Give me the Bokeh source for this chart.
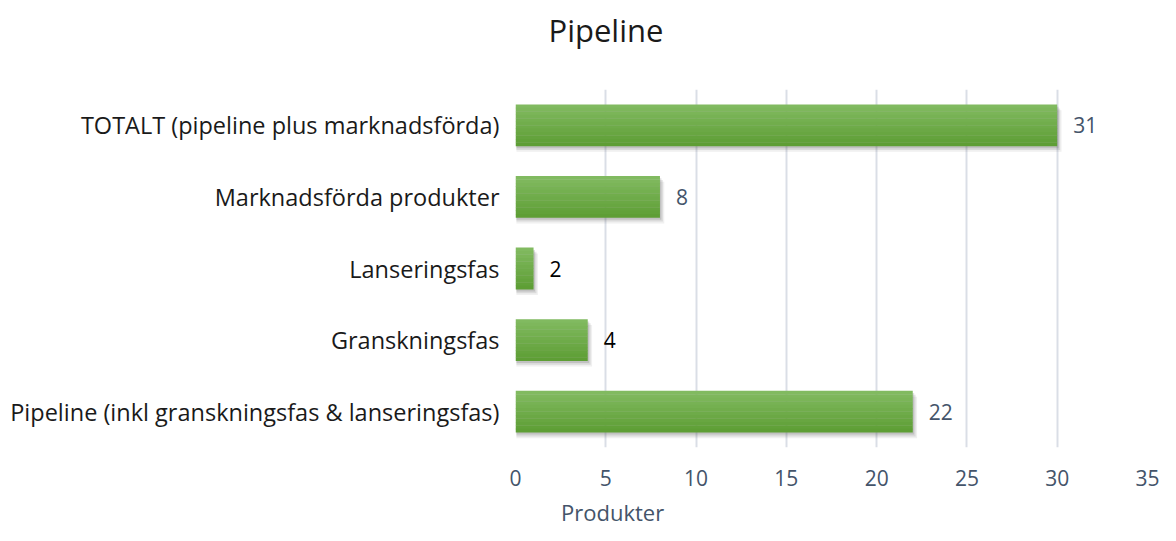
from bokeh.plotting import figure
from bokeh.layouts import column
from bokeh.models import (FactorRange, Range1d, ColumnDataSource, Legend, LegendItem,
                          Title, FixedTicker)
from bokeh.transform import dodge
from bokeh.core.properties import value
from bokeh.embed import file_html
from bokeh.resources import INLINE

# ---- data (top to bottom as in the chart) ----
categories = ["TOTALT (pipeline plus marknadsförda)", "Marknadsförda produkter",
              "Lanseringsfas", "Granskningsfas",
              "Pipeline (inkl granskningsfas & lanseringsfas)"]
bar_values = [30, 8, 1, 4, 22]
label_values = [31, 8, 2, 4, 22]
label_colors = ["#44546A", "#44546A", "#000000", "#000000", "#44546A"]
x_ticks = [0, 5, 10, 15, 20, 25, 30, 35]
series_name = "Produkter"
chart_title = "Pipeline"

FONT = "Open Sans"
factors = list(reversed(categories))

src = ColumnDataSource(dict(cat=categories, bar=bar_values,
                            lab=[str(v) for v in label_values], col=label_colors))

p = figure(y_range=FactorRange(factors=factors, range_padding=0),
           x_range=Range1d(0, 35),
           frame_width=632, frame_height=358,
           min_border_left=515, min_border_right=13,
           min_border_top=89, min_border_bottom=50,
           output_backend="svg", toolbar_location=None,
           background_fill_color="white", border_fill_color="white")
p.outline_line_color = None

# shadow
for i, a in enumerate([0.16, 0.12, 0.08]):
    off = 0.08 + i * 0.08
    p.hbar(y=dodge("cat", -0.03 - i * 0.025, range=p.y_range), left=0.05,
           right=dodge("bar", off), height=0.58, source=src,
           fill_color="#444444", fill_alpha=a, line_color=None)

# gradient bar via bands
top = (0x81, 0xBA, 0x60)
bot = (0x5E, 0x9E, 0x35)
nb = 12
H = 0.58
for k in range(nb):
    t = k / (nb - 1)
    c = tuple(int(round(top[j] + (bot[j] - top[j]) * t)) for j in range(3))
    color = "#%02x%02x%02x" % c
    center = H / 2 - (k + 0.5) * H / nb
    p.hbar(y=dodge("cat", center, range=p.y_range), left=0, right="bar",
           height=H / nb + 0.004, source=src, fill_color=color, line_color=None)

# value labels
p.text(x="bar", y="cat", text="lab", source=src, x_offset=16,
       text_color="col", text_font=value(FONT), text_font_size="21px",
       text_baseline="middle", text_align="left")

# axes
p.xaxis.ticker = FixedTicker(ticks=x_ticks)
p.xaxis.axis_line_color = None
p.xaxis.major_tick_line_color = None
p.xaxis.minor_tick_line_color = None
p.xaxis.major_label_text_font = FONT
p.xaxis.major_label_text_font_size = "21px"
p.xaxis.major_label_text_color = "#44546A"
p.xaxis.major_label_standoff = 16

p.yaxis.axis_line_color = None
p.yaxis.major_tick_line_color = None
p.yaxis.minor_tick_line_color = None
p.yaxis.major_label_text_font = FONT
p.yaxis.major_label_text_font_size = "23.5px"
p.yaxis.major_label_text_color = "#1a1a1a"
p.yaxis.major_label_standoff = 10

p.xgrid.grid_line_color = "#dadee6"
p.xgrid.grid_line_width = 2
p.ygrid.grid_line_color = None

# spacer between frame and title (added first = closest to the frame)
p.add_layout(Title(text=" ", text_font=FONT, text_font_size="20px",
                   standoff=4), "above")
# title
p.add_layout(Title(text=chart_title, align="left", offset=33,
                   text_font=FONT, text_font_size="31px",
                   text_font_style="normal", text_color="#1a1a1a",
                   standoff=11), "above")

# legend strip: a small figure below the chart (its frame aligns with the chart's)
lg = figure(width=1160, height=30, x_range=Range1d(0, 1), y_range=Range1d(0, 1),
            min_border_left=515, min_border_right=13, min_border_top=0,
            min_border_bottom=0, x_axis_location=None, y_axis_location=None,
            output_backend="svg", toolbar_location=None,
            background_fill_color="white", border_fill_color="white")
lg.outline_line_color = None
lg.grid.visible = False
swatch = lg.hbar(y=[], right=[], height=0.5, fill_color="#6cad45", line_color=None)
leg = Legend(items=[LegendItem(label=series_name, renderers=[swatch])],
             location=(25, 0), orientation="horizontal",
             glyph_width=15, glyph_height=15, label_text_font=FONT,
             label_text_font_size="22px", label_text_color="#44546A",
             padding=0, margin=0, spacing=0, border_line_color=None,
             background_fill_alpha=0, label_standoff=6)
lg.add_layout(leg)

open("out.html", "w").write(file_html(column(p, lg, spacing=0), INLINE))
